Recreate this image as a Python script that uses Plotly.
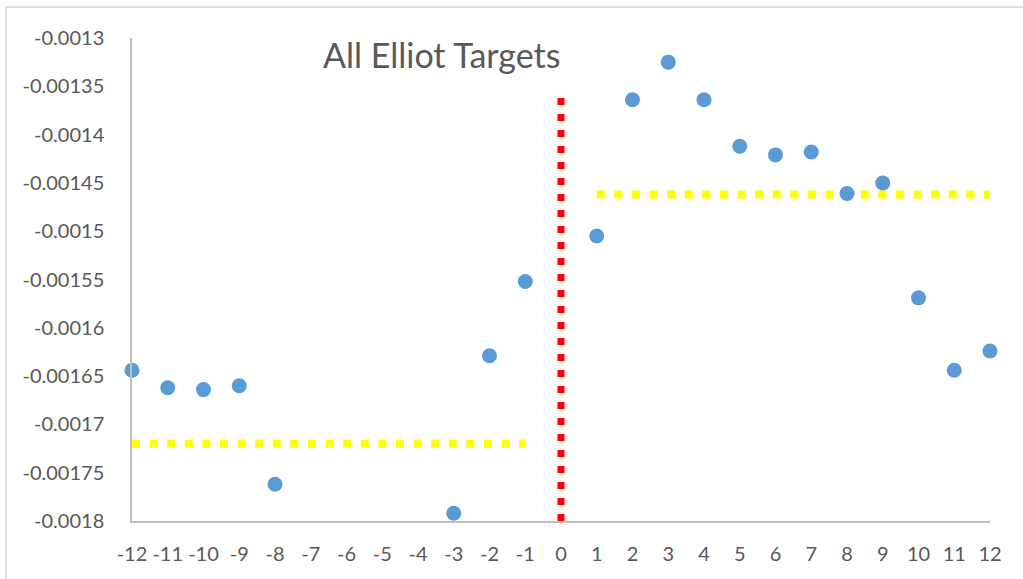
import plotly.graph_objects as go

# scatter points (missing lags are not plotted)
lags = [-12, -11, -10, -9, -8, -3, -2, -1, 1, 2, 3, 4, 5, 6, 7, 8, 9, 10, 11, 12]
values = [-0.001644, -0.001662, -0.001664, -0.001660, -0.001762, -0.001792, -0.001629, -0.001552,
          -0.001505, -0.001364, -0.001325, -0.001364, -0.001412, -0.001421, -0.001418,
          -0.001461, -0.001450, -0.001569, -0.001644, -0.001624]

# average level before / after the event
pre_x = [-12, -1]
pre_avg = [-0.00172, -0.00172]
post_x = [1, 12]
post_avg = [-0.001462, -0.001462]

# event marker at lag 0
event_x = [0, 0]
event_y = [-0.0018, -0.00136]

x_ticks = list(range(-12, 13))
x_labels = [str(v) for v in x_ticks]
y_ticks = [-0.0013, -0.00135, -0.0014, -0.00145, -0.0015, -0.00155,
           -0.0016, -0.00165, -0.0017, -0.00175, -0.0018]
y_labels = ['-0.0013', '-0.00135', '-0.0014', '-0.00145', '-0.0015', '-0.00155',
            '-0.0016', '-0.00165', '-0.0017', '-0.00175', '-0.0018']

text_color = '#595959'
axis_color = '#BFBFBF'

fig = go.Figure()

fig.add_trace(go.Scatter(x=pre_x, y=pre_avg, mode='lines',
                         line=dict(color='#FFFF00', width=8, dash='8px,9.6px'),
                         hoverinfo='skip', cliponaxis=False))
fig.add_trace(go.Scatter(x=post_x, y=post_avg, mode='lines',
                         line=dict(color='#FFFF00', width=8, dash='8px,9.6px'),
                         hoverinfo='skip', cliponaxis=False))
fig.add_trace(go.Scatter(x=event_x, y=event_y, mode='lines',
                         line=dict(color='#FF0000', width=7, dash='7px,9px'),
                         hoverinfo='skip', cliponaxis=False))
fig.add_trace(go.Scatter(x=lags, y=values, mode='markers',
                         marker=dict(color='#5B9BD5', size=15),
                         cliponaxis=False))

fig.add_annotation(text='All Elliot Targets', xref='paper', yref='paper',
                   x=0.361, y=0.965, xanchor='center', yanchor='middle',
                   showarrow=False, font=dict(size=34, color=text_color))

# outer chart border
fig.add_shape(type='rect', xref='paper', yref='paper',
              x0=-0.1469, x1=1.2, y0=-0.3, y1=1.0642,
              line=dict(color='#D9D9D9', width=1.5), layer='above')

fig.update_layout(
    width=1023, height=579,
    margin=dict(l=132, r=33, t=38, b=58),
    paper_bgcolor='white', plot_bgcolor='white',
    showlegend=False,
    font=dict(family='Lato, Carlito, sans-serif', color=text_color),
)
fig.update_xaxes(range=[-12, 12], tickvals=x_ticks, ticktext=x_labels,
                 showgrid=False, zeroline=False, showline=True,
                 linecolor=axis_color, linewidth=1.5,
                 ticks='', ticklabelstandoff=14, tickangle=0, automargin=False,
                 tickfont=dict(size=20, color=text_color))
fig.update_yaxes(range=[-0.0018, -0.0013], tickvals=y_ticks, ticktext=y_labels,
                 showgrid=False, zeroline=False, showline=True,
                 linecolor=axis_color, linewidth=1.5,
                 ticks='', ticklabelstandoff=22, automargin=False,
                 tickfont=dict(size=20, color=text_color))

# drop the default page margin so the figure sits at the window corner
fig.write_html('out.html', config={'displayModeBar': False},
               post_script="document.body.style.margin = '0';")
